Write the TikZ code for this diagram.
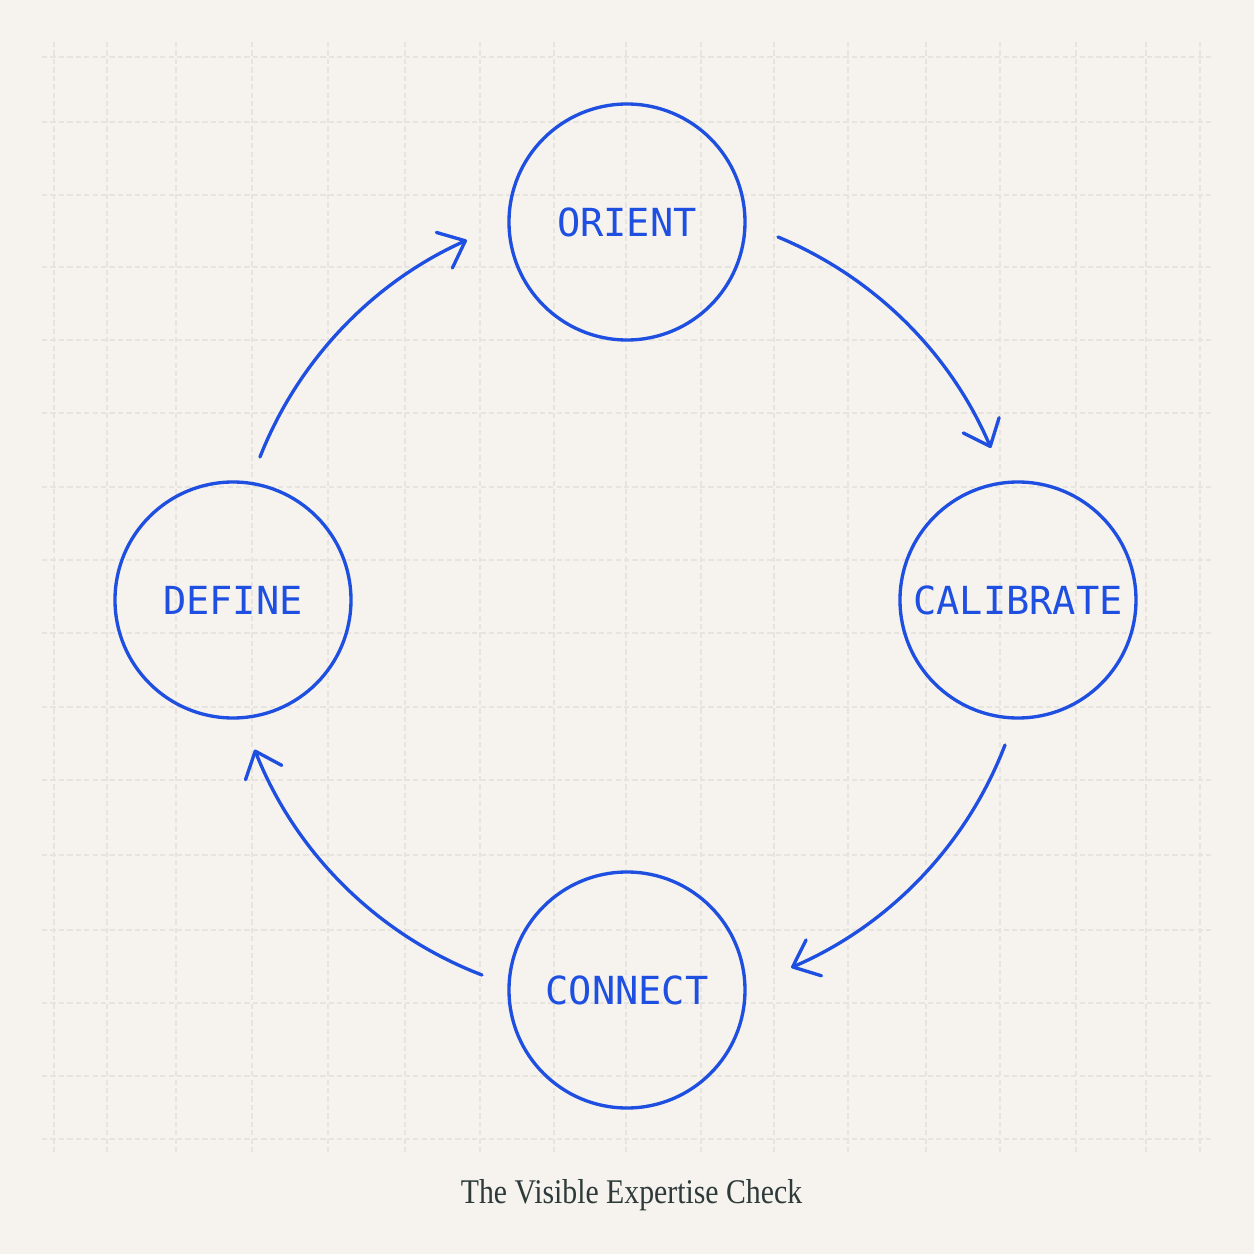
\documentclass[tikz,border=0pt]{standalone}
\usepackage{fontspec}
\usetikzlibrary{arrows.meta}

\newfontfamily\labelfont{DejaVu Sans Mono}
\newfontfamily\titlefont[FakeStretch=0.86]{Liberation Serif}

\definecolor{paper}{HTML}{F6F3EE}
\definecolor{gridgray}{HTML}{E7E4DF}
\definecolor{cycleblue}{HTML}{1E4FE0}
\definecolor{inkgray}{HTML}{2E3A3A}

\begin{document}
\begin{tikzpicture}[
    gridline/.style={draw=gridgray, line width=0.6pt, dash pattern=on 3pt off 1.8pt},
    flow/.style={draw=cycleblue, line width=1.9pt, line cap=round,
      -{Straight Barb[length=0.46cm, width=0.78cm, round]}}
  ]

      \fill[paper] (-12.54,-13.08) rectangle (12.54,12);
      \useasboundingbox (-12.54,-13.08) rectangle (12.54,12);

      % faint dashed grid
      \foreach \gx in {54,107,176,252,328,405,480,554,626,701,774,848,926,1000,1076,1146,1200}
        \draw[gridline] ({(\gx-627)/50},11.16) -- ({(\gx-627)/50},-11.04);
      \foreach \gy in {57,122,195,267,340,413,487,560,633,707,780,855,930,1003,1076,1139}
        \draw[gridline] (-11.7,{(600-\gy)/50}) -- (11.7,{(600-\gy)/50});

      \begin{scope}[every node/.style={circle, draw=cycleblue, line width=1.9pt,
          minimum size=4.72cm, inner sep=0pt, text=cycleblue,
          font=\labelfont\fontsize{22}{26}\selectfont}]
        \node (orient)    at (0,7.56)  {ORIENT};
        \node (calibrate) at (7.82,0)  {CALIBRATE};
        \node (connect)   at (0,-7.8)  {CONNECT};
        \node (define)    at (-7.88,0) {DEFINE};
      \end{scope}

      \draw[flow] ([shift={(0.54,2.86)}]define.center)
        arc[start angle=158.5, end angle=114.2, radius=7.95];
      \draw[flow] ([shift={(3.02,-0.30)}]orient.center)
        arc[start angle=67.4, end angle=23.1, radius=7.95];
      \draw[flow] ([shift={(-0.26,-2.9)}]calibrate.center)
        arc[start angle=-21, end angle=-66.7, radius=7.95];
      \draw[flow] ([shift={(-2.9,0.3)}]connect.center)
        arc[start angle=-111, end angle=-158.5, radius=7.95];

      \node[font=\titlefont\fontsize{19.7}{24}\selectfont, text=inkgray, anchor=base]
        (title) at (0.09,-12.06) {The Visible Expertise Check};

    \end{tikzpicture}
\end{document}
